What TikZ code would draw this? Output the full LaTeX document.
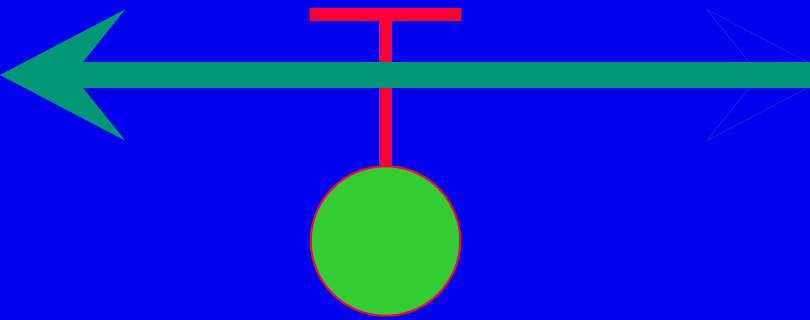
\documentclass[tikz,border=0pt]{standalone}
\definecolor{bg}{HTML}{0000EE}
\definecolor{arrowgreen}{HTML}{009874}
\definecolor{tred}{HTML}{FF0033}
\definecolor{ballgreen}{HTML}{33CC33}
\definecolor{faint}{HTML}{1830C8}
\tikzset{
  ballstyle/.style={circle, fill=ballgreen, draw=tred, line width=2pt, minimum size=149.5pt, inner sep=0pt},
  stemstyle/.style={tred, line width=13pt},
  faintline/.style={draw=faint, line width=0.6pt}
}
\begin{document}
\begin{tikzpicture}[x=1pt,y=-1pt]
\fill[bg] (0,0) rectangle (810,320);
\useasboundingbox (0,0) rectangle (810,320);
\begin{scope}
\clip (0,0) rectangle (810,320);
% faint right arrowhead outline
\draw[faintline] (832,75) -- (707,9.5) -- (749,62) -- (749,88) -- (707,140.5) -- cycle;
% red T
\fill[tred] (310,8) rectangle (461,21);
\coordinate (stemtop) at (385.5,20);
\coordinate (stembot) at (385.5,170);
\draw[stemstyle] (stemtop) -- (stembot);
\node[ballstyle] (ball) at (385.5,241) {};
% green arrow
\fill[arrowgreen] (83,62) rectangle (811,88);
\fill[arrowgreen] (0,75) -- (125,9.5) -- (83,62) -- (83,88) -- (125,140.5) -- cycle;
\end{scope}
\end{tikzpicture}
\end{document}
